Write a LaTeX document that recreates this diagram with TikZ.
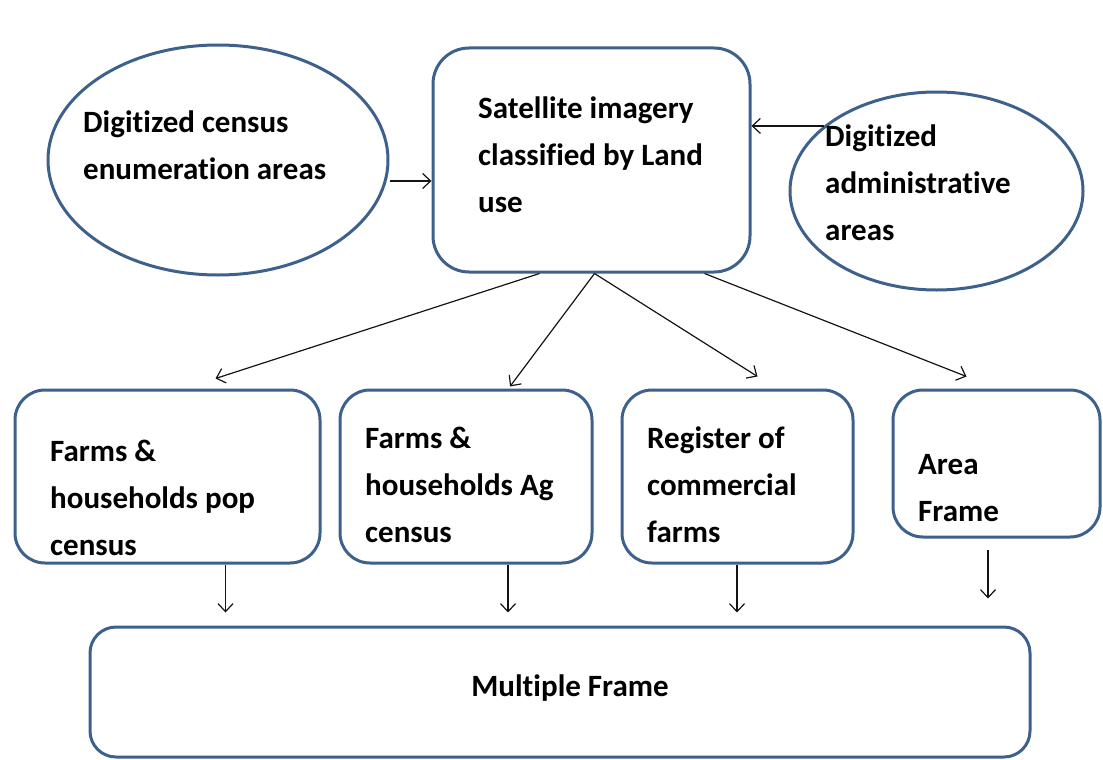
\documentclass[tikz,border=0pt]{standalone}
\usepackage{fontspec}
\setmainfont{Carlito}[Ligatures=NoCommon]
\usetikzlibrary{shapes.geometric,arrows.meta}
\definecolor{frameBlue}{RGB}{62,96,140}
\definecolor{arrowBlack}{RGB}{20,20,20}

\begin{document}
\begin{tikzpicture}[x=1pt, y=-1pt,
    rbox/.style={draw=frameBlue, line width=3pt, rounded corners=30pt, inner sep=0pt},
    oval/.style={draw=frameBlue, line width=3pt, ellipse, inner sep=0pt},
    lbl/.style={font=\bfseries\fontsize{31}{47}\selectfont, align=left, inner sep=0pt, anchor=west},
    arr/.style={-{Straight Barb[length=8pt,width=15pt]}, line width=1.2pt, draw=arrowBlack}]
    \useasboundingbox (0,0) rectangle (1103,760);

    % Sources
    \node[oval, minimum width=340pt, minimum height=230pt] (digcensus) at (218,160) {};
    \node[rbox, rounded corners=36pt, minimum width=317pt, minimum height=224pt] (sat) at (591.5,160) {};
    \node[oval, minimum width=293pt, minimum height=198pt] (digadmin) at (936.5,191) {};
    \node[lbl] (tcensus) at (83,145) {Digitized census\\enumeration areas};
    \node[lbl] (tsat) at (478,155) {Satellite imagery\\classified by Land\\use};
    \node[lbl] (tadmin) at (825,183) {Digitized\\administrative\\areas};

    \draw[arr] ([yshift=-21pt]digcensus.east) -- ([yshift=-21pt]digcensus.east -| sat.west);
    \draw[arr] (digadmin.150) -- (digadmin.150 -| sat.east);

    % Frames
    \node[rbox, minimum width=305pt, minimum height=173pt] (popcensus) at (167.5,476.5) {};
    \node[rbox, minimum width=252pt, minimum height=173pt] (agcensus) at (466,476.5) {};
    \node[rbox, minimum width=231pt, minimum height=173pt] (register) at (737.5,476.5) {};
    \node[rbox, minimum width=207pt, minimum height=147pt] (areaframe) at (996.5,463.5) {};
    \node[lbl] (tpop) at (50,498) {Farms \&\\households pop\\census};
    \node[lbl] (tag) at (365,485) {Farms \&\\households Ag\\census};
    \node[lbl] (treg) at (647,485) {Register of\\commercial\\farms};
    \node[lbl] (tarea) at (918,488.5) {Area\\Frame};

    \draw[arr] ([xshift=-52pt]sat.south) -- ([xshift=48pt,yshift=10pt]popcensus.north);
    \draw[arr] ([xshift=3pt]sat.south) -- ([xshift=44pt,yshift=2pt]agcensus.north);
    \draw[arr] ([xshift=3pt]sat.south) -- ([xshift=20pt,yshift=12pt]register.north);
    \draw[arr] ([xshift=113pt]sat.south) -- ([xshift=-30pt,yshift=12pt]areaframe.north);

    % Multiple frame
    \node[rbox, rounded corners=26pt, minimum width=940pt, minimum height=130pt] (multi) at (560,692) {};
    \node[lbl, anchor=center] (tmulti) at (570,688) {Multiple Frame};

    \draw[arr, shorten >=13pt] ([xshift=58pt]popcensus.south) -- ([xshift=58pt]popcensus.south |- multi.north);
    \draw[arr, shorten >=13pt] ([xshift=42pt]agcensus.south) -- ([xshift=42pt]agcensus.south |- multi.north);
    \draw[arr, shorten >=13pt] ([xshift=-0.5pt]register.south) -- ([xshift=-0.5pt]register.south |- multi.north);
    \draw[arr, shorten <=11pt, shorten >=27pt] ([xshift=-8.5pt]areaframe.south) -- ([xshift=-8.5pt]areaframe.south |- multi.north);
\end{tikzpicture}
\end{document}
